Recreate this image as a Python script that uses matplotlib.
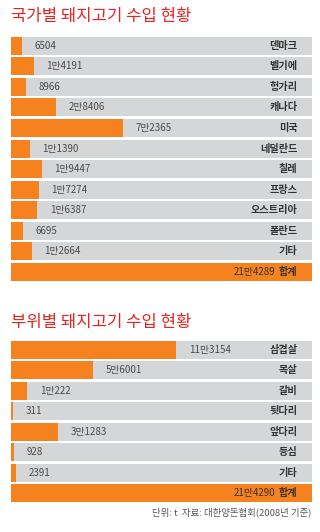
import matplotlib
matplotlib.use('Agg')
import matplotlib.pyplot as plt

plt.rcParams['font.family'] = ['Noto Sans CJK KR', 'DejaVu Sans']

# 국가별 수입 (t)
countries = ['덴마크', '벨기에', '헝가리', '캐나다', '미국', '네덜란드', '칠레',
             '프랑스', '오스트리아', '폴란드', '기타']
country_vals = [6504, 14191, 8966, 28406, 72365, 11390, 19447, 17274, 16387, 6695, 12664]
country_total = 214289

# 부위별 수입 (t)
parts = ['삼겹살', '목살', '갈비', '뒷다리', '앞다리', '등심', '기타']
part_vals = [113154, 56001, 10222, 311, 31283, 928, 2391]
part_total = 214290

ORANGE = '#f5821f'
GRAY = '#d5d6d8'
RED = '#e52521'
W, H = 320, 532


def fmt(v):
    man, rest = divmod(v, 10000)
    return f'{man}만{rest}' if man else str(rest)


def draw(ax, names, vals, total, xmax, pad):
    h = 0.88
    n = len(names) + 1
    ys = list(range(n))
    ax.barh(ys, [xmax + pad] * n, left=-pad, height=h, color=GRAY, zorder=1)
    ax.barh(ys[:-1], [v + pad for v in vals], left=-pad, height=h, color=ORANGE, zorder=2)
    ax.barh(ys[-1], total + pad, left=-pad, height=h, color=ORANGE, zorder=2)
    for y, name, v in zip(ys, names, vals):
        ax.annotate(fmt(v), (v, y), xytext=(9, 0), textcoords='offset points',
                    va='center', ha='left', fontsize=7, color='#4a4a4a')
        ax.text(0.952, y, name, transform=ax.get_yaxis_transform(),
                ha='right', va='center', fontsize=7.3, fontweight='bold', color='#333333')
    ax.text(0.952, ys[-1], '합계', transform=ax.get_yaxis_transform(),
            ha='right', va='center', fontsize=7.3, fontweight='bold', color='#333333')
    ax.text(0.878, ys[-1], fmt(total), transform=ax.get_yaxis_transform(),
            ha='right', va='center', fontsize=7, color='#333333')
    ax.set_xlim(-pad, xmax)
    ax.set_ylim(n - 1 + h / 2, -h / 2)
    ax.axis('off')


fig = plt.figure(figsize=(W / 100, H / 100), dpi=100)
fig.patch.set_facecolor('white')

ax1 = fig.add_axes([11 / W, 1 - 281 / H, 301 / W, (281 - 36.7) / H])
draw(ax1, countries, country_vals, country_total, 197000, 1000)

ax2 = fig.add_axes([11 / W, 1 - 502.3 / H, 301 / W, (502.3 - 340.7) / H])
draw(ax2, parts, part_vals, part_total, 207000, 1000)

fig.text(11 / W, 1 - 16 / H, '국가별 돼지고기 수입 현황', color=RED, fontsize=12,
         fontweight='medium', ha='left', va='center')
fig.text(11 / W, 1 - 322 / H, '부위별 돼지고기 수입 현황', color=RED, fontsize=12,
         fontweight='medium', ha='left', va='center')
fig.text(311 / W, 1 - 512 / H, '단위: t  자료: 대한양돈협회(2008년 기준)',
         color='#555555', fontsize=6.8, ha='right', va='center')

fig.savefig('out.png', dpi=100)
